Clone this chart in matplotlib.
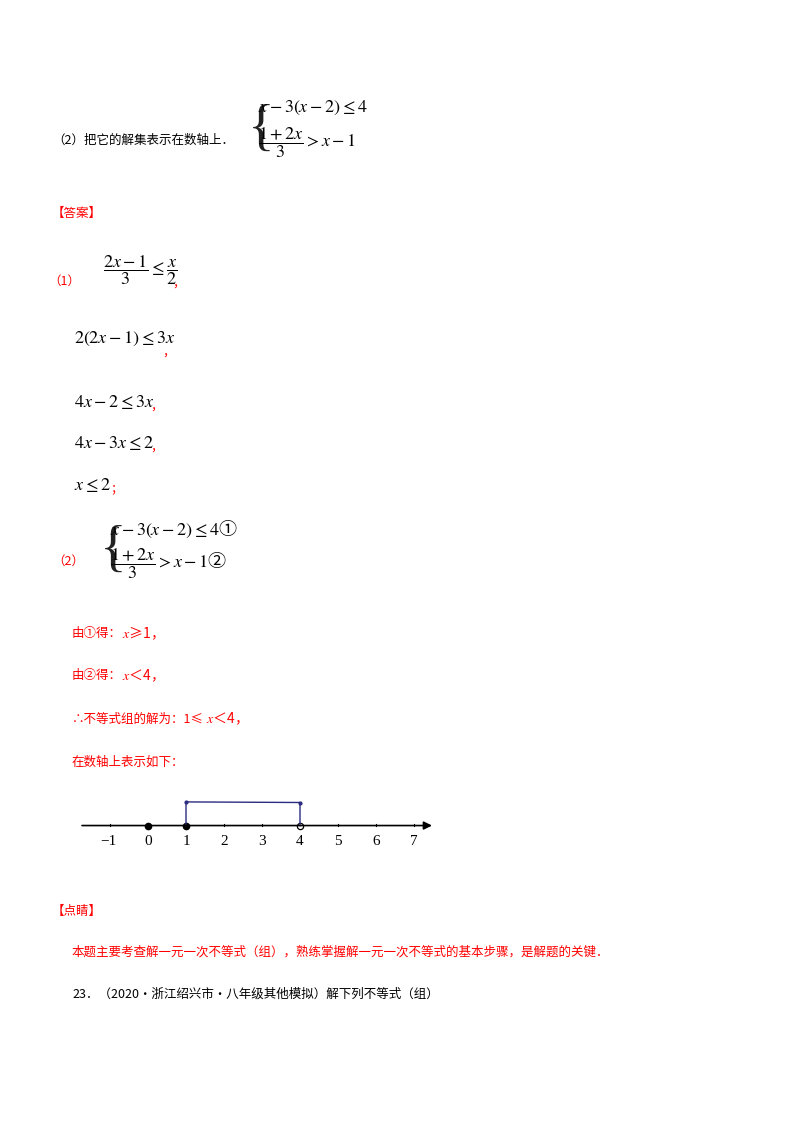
import matplotlib
matplotlib.use("Agg")
import matplotlib.pyplot as plt

plt.rcParams["font.family"] = ["Noto Sans CJK SC", "DejaVu Sans"]
plt.rcParams["mathtext.fontset"] = "stix"

W, H = 800, 1132
RED = "#ff0000"

# number line data
tick_values = [-1, 0, 1, 2, 3, 4, 5, 6, 7]
tick_labels = ["\u22121", "0", "1", "2", "3", "4", "5", "6", "7"]
solid_points = [0, 1]
open_points = [4]
interval = (1, 4)

fig = plt.figure(figsize=(W / 100, H / 100), dpi=100)
page = fig.add_axes([0, 0, 1, 1])
page.set_xlim(0, W)
page.set_ylim(H, 0)
page.axis("off")


def cn(x, y, s, color="black", size=9):
    page.text(x, y, s, color=color, fontsize=size, va="center", ha="left")


def mt(x, y, s, color="black", size=13):
    page.text(x, y, s, color=color, fontsize=size, va="center", ha="left")


def brace(x, y, size=30):
    page.text(x, y, "{", fontsize=size, va="center", ha="left",
              family="Liberation Serif", color="#222222")


# question part (2)
cn(52, 140, "（2）把它的解集表示在数轴上．")
brace(248, 131, size=40)
mt(258, 108, r"$x-3(x-2)\leq 4$")
mt(258, 143, r"$\dfrac{1+2x}{3}>x-1$")

cn(52, 213, "【答案】", color=RED)

cn(48, 281, "（1）", color=RED)
mt(103, 270, r"$\dfrac{2x-1}{3}\leq\dfrac{x}{2}$")
cn(172, 283, "，", color=RED)

mt(74, 339, r"$2(2x-1)\leq 3x$")
cn(162, 352, "，", color=RED)
mt(74, 402, r"$4x-2\leq 3x$")
cn(150, 406, "，", color=RED)
mt(74, 443, r"$4x-3x\leq 2$")
cn(150, 447, "，", color=RED)
mt(74, 485, r"$x\leq 2$")
cn(110, 489, "；", color=RED)

cn(52, 561, "（2）", color=RED)
brace(100, 552, size=40)
mt(110, 529, r"$x-3(x-2)\leq 4$" + "①")
mt(110, 564, r"$\dfrac{1+2x}{3}>x-1$" + "②")

cn(72, 633, "由①得：", color=RED)
mt(122, 633, r"$x$" + "≥1，", color=RED, size=10)
cn(72, 676, "由②得：", color=RED)
mt(122, 676, r"$x$" + "＜4，", color=RED, size=10)
cn(72, 719, "∴不等式组的解为：1≤", color=RED)
mt(206, 719, r"$x$" + "＜4，", color=RED, size=10)
cn(72, 762, "在数轴上表示如下：", color=RED)

cn(52, 911, "【点睛】", color=RED)
cn(72, 952, "本题主要考查解一元一次不等式（组），熟练掌握解一元一次不等式的基本步骤，是解题的关键．", color=RED)
cn(72, 994, "23．（2020·浙江绍兴市·八年级其他模拟）解下列不等式（组）")

# number line axes: x from px 82 to 432, -1 at 110, 38 px per unit
x0_px, x1_px = 82, 432
unit = 38.0
lo = -1 + (x0_px - 110) / unit
hi = -1 + (x1_px - 110) / unit
y_top_px, y_bot_px = 796, 861
ax = fig.add_axes([x0_px / W, 1 - y_bot_px / H, (x1_px - x0_px) / W, (y_bot_px - y_top_px) / H])
ax.set_xlim(lo, hi)
ax.set_ylim(-1.2, 1.0)
ax.axis("off")
ax.annotate("", xy=(hi, 0), xytext=(lo, 0),
            arrowprops=dict(arrowstyle="-|>", color="black", lw=1.2,
                            mutation_scale=12, shrinkA=0, shrinkB=0))
for v, lab in zip(tick_values, tick_labels):
    ax.plot([v, v], [0, 0.06], color="black", lw=0.8)
    ax.text(v - 0.05 if v == -1 else v, -0.55, lab, ha="center", va="center",
            fontsize=11, family="Liberation Serif")
ax.plot(solid_points, [0] * len(solid_points), "o", color="black", ms=4.5)
ax.plot(open_points, [0] * len(open_points), "o", mfc="white", mec="black", ms=4.5, mew=0.9)
a, b = interval
ax.plot([a, a, b, b], [0, 0.8, 0.78, 0], color="#2b2b80", lw=1.0)
ax.plot([a, b], [0.8, 0.78], "o", color="#2b2b80", ms=2)

fig.savefig("out.png", dpi=100)
